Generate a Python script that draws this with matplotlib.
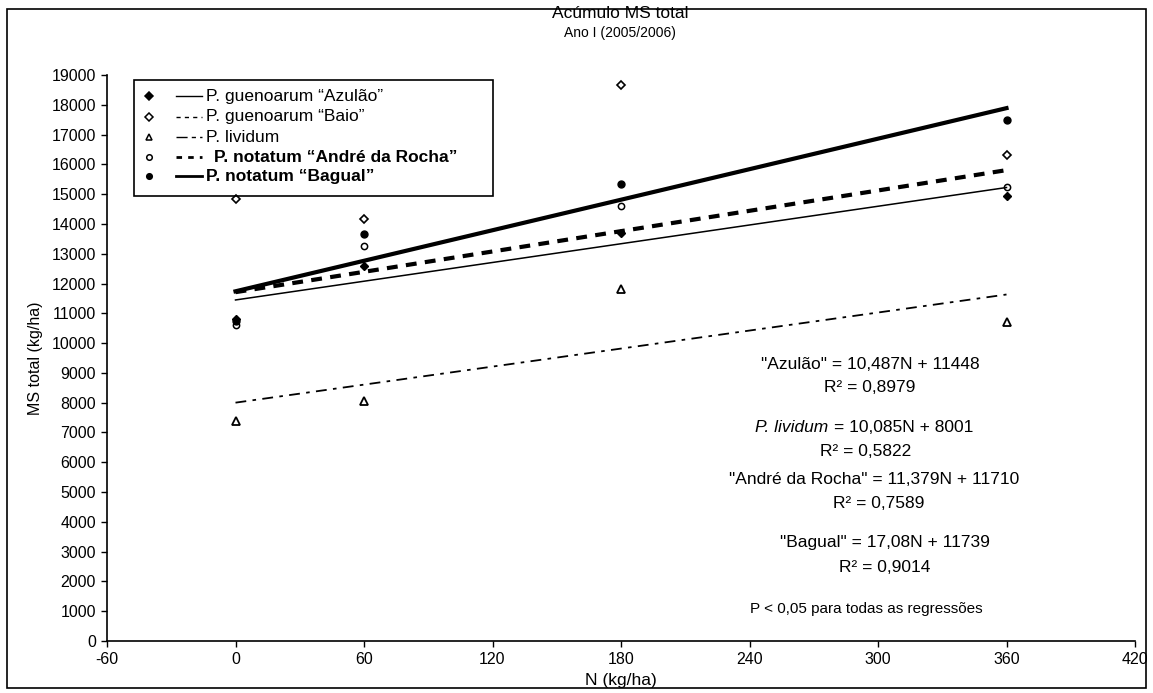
import numpy as np
import matplotlib
matplotlib.use("Agg")
import matplotlib.pyplot as plt
from matplotlib.lines import Line2D
from matplotlib.patches import Rectangle

plt.rcParams['font.family'] = ['Liberation Sans', 'DejaVu Sans']
plt.rcParams['axes.unicode_minus'] = False

# N doses (kg/ha)
n_doses = [0, 60, 180, 360]

# MS total (kg/ha)
azulao = [10800, 12600, 13700, 14950]
baio = [14850, 14150, 18650, 16300]
lividum = [7400, 8050, 11800, 10700]
andre = [10600, 13250, 14600, 15250]
bagual = [10750, 13650, 15350, 17500]

# regression fits shown on the chart (slope, intercept)
fit_azulao = (10.487, 11448)
fit_lividum = (10.085, 8001)
fit_andre = (11.379, 11710)
fit_bagual = (17.08, 11739)

x_ticks = [-60, 0, 60, 120, 180, 240, 300, 360, 420]
y_ticks = list(range(0, 19001, 1000))

W, H = 1153, 693


def fx(px):
    return px / W


def fy(py):
    return 1 - py / H


fig = plt.figure(figsize=(W / 100, H / 100), dpi=100)
ax = fig.add_axes([fx(107), fy(641), fx(1135) - fx(107), fy(75) - fy(641)])

# scatter points
ax.plot(n_doses, azulao, 'D', color='black', ms=4.5, ls='none')
ax.plot(n_doses, baio, 'D', mfc='white', mec='black', mew=1.2, ms=4.5, ls='none')
ax.plot(n_doses, lividum, '^', mfc='white', mec='black', mew=1.3, ms=5.5, ls='none')
ax.plot(n_doses, andre, 'o', mfc='white', mec='black', mew=1.1, ms=4.5, ls='none')
ax.plot(n_doses, bagual, 'o', color='black', ms=5, ls='none')

# trend lines
xl = np.array([0, 360])
ax.plot(xl, fit_azulao[0] * xl + fit_azulao[1], color='black', lw=1.1)
ax.plot(xl, fit_lividum[0] * xl + fit_lividum[1], color='black', lw=1.3,
        ls=(0, (6, 3.5, 2, 3.5)))
ax.plot(xl, fit_andre[0] * xl + fit_andre[1], color='black', lw=3,
        ls=(0, (2.6, 2)))
ax.plot(xl, fit_bagual[0] * xl + fit_bagual[1], color='black', lw=3)

ax.set_xlim(-60, 420)
ax.set_ylim(0, 19000)
ax.set_xticks(x_ticks)
ax.set_yticks(y_ticks)
ax.tick_params(direction='out', length=4, width=1, labelsize=11.5, pad=4)
for s in ['top', 'right']:
    ax.spines[s].set_visible(False)
for s in ['left', 'bottom']:
    ax.spines[s].set_linewidth(1.2)
ax.set_ylabel('MS total (kg/ha)', fontsize=11.5, labelpad=6)
ax.set_xlabel('N (kg/ha)', fontsize=12.5, labelpad=4)

# titles
fig.text(fx(620), fy(13), 'Acúmulo MS total', ha='center', va='center', fontsize=12.5)
fig.text(fx(620), fy(33), 'Ano I (2005/2006)', ha='center', va='center', fontsize=10)

# hand drawn legend box
fig.add_artist(Rectangle((fx(134), fy(196)), fx(493) - fx(134), fy(80) - fy(196),
                         transform=fig.transFigure, fill=False, ec='black', lw=1.2))
rows = [
    (96, 'D', 'black', '-', 1.0, 'P. guenoarum “Azulão”', 'normal'),
    (117, 'D', 'white', (0, (3, 3)), 1.0, 'P. guenoarum “Baio”', 'normal'),
    (137, '^', 'white', (0, (8, 3, 3, 3)), 1.0, 'P. lividum', 'normal'),
    (157, 'o', 'white', (0, (2, 2.2)), 2.0, 'P. notatum “André da Rocha”', 'bold'),
    (176, 'o', 'black', '-', 2.0, 'P. notatum “Bagual”', 'bold'),
]
for y, mk, fc, ls, lw, label, weight in rows:
    fig.add_artist(Line2D([fx(149)], [fy(y)], marker=mk, mfc=fc, mec='black',
                          ms=4, mew=1.1, ls='none', transform=fig.transFigure))
    fig.add_artist(Line2D([fx(176), fx(202)], [fy(y), fy(y)], color='black',
                          lw=lw, ls=ls, transform=fig.transFigure))
    tx = 214 if 'André' in label else 206
    fig.text(fx(tx), fy(y), label, ha='left', va='center', fontsize=12.5,
             fontweight=weight)

# regression equations
eq_size = 12.5
fig.text(fx(870), fy(364), '"Azulão" = 10,487N + 11448', ha='center', va='center', fontsize=eq_size)
fig.text(fx(870), fy(388), 'R² = 0,8979', ha='center', va='center', fontsize=eq_size)
fig.text(fx(828), fy(427), 'P. lividum', ha='right', va='center', fontsize=eq_size, style='italic')
fig.text(fx(834), fy(427), '= 10,085N + 8001', ha='left', va='center', fontsize=eq_size)
fig.text(fx(866), fy(451), 'R² = 0,5822', ha='center', va='center', fontsize=eq_size)
fig.text(fx(874), fy(480), '"André da Rocha" = 11,379N + 11710', ha='center', va='center', fontsize=eq_size)
fig.text(fx(879), fy(503), 'R² = 0,7589', ha='center', va='center', fontsize=eq_size)
fig.text(fx(885), fy(543), '"Bagual" = 17,08N + 11739', ha='center', va='center', fontsize=eq_size)
fig.text(fx(885), fy(567), 'R² = 0,9014', ha='center', va='center', fontsize=eq_size)
fig.text(fx(866), fy(609), 'P < 0,05 para todas as regressões', ha='center', va='center', fontsize=11)

# outer chart border
fig.add_artist(Rectangle((fx(7), fy(688)), fx(1146) - fx(7), fy(9) - fy(688),
                         transform=fig.transFigure, fill=False, ec='black', lw=1.2))

fig.savefig('out.png', dpi=100)
